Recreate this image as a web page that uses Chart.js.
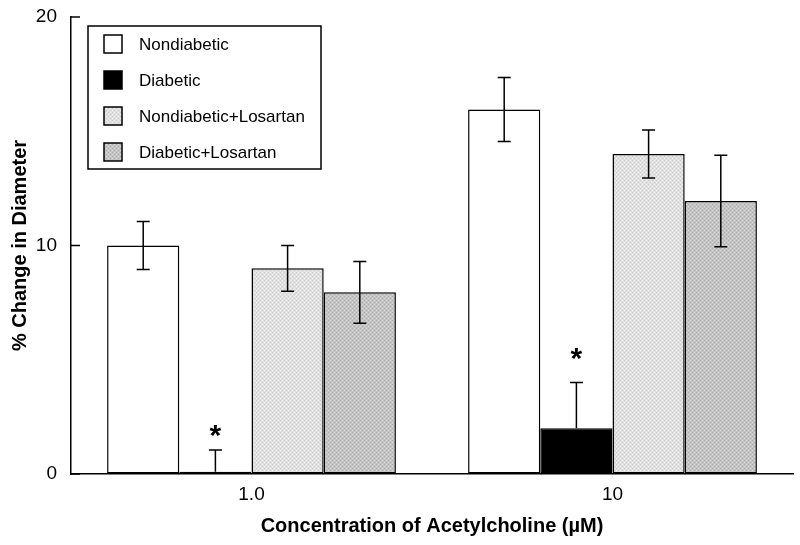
<!DOCTYPE html>
<html><head><meta charset="utf-8">
<script src="https://cdn.jsdelivr.net/npm/chart.js@4"></script>
<style>html,body{margin:0;padding:0;background:#fff}#wrap{width:800px;height:545px}</style>
</head><body><div id="wrap"><canvas id="c" width="800" height="545"></canvas></div>
<script>
// ---- data ----
const categories = ['1.0', '10'];
const seriesNames = ['Nondiabetic', 'Diabetic', 'Nondiabetic+Losartan', 'Diabetic+Losartan'];
const nondiabetic = [10.0, 15.95];
const diabetic = [0.1, 2.0];
const nondiabeticLosartan = [9.0, 14.0];
const diabeticLosartan = [7.95, 11.95];
const errNondiabetic = [1.05, 1.4];
const errDiabetic = [0.95, 2.0];
const errNondiabeticLosartan = [1.0, 1.05];
const errDiabeticLosartan = [1.35, 2.0];
const yTicks = [0, 10, 20];
const diabeticStarAt = [1.9, 5.25]; // asterisk height (data units) above Diabetic bars

const FONT = "Arial, 'Liberation Sans', Helvetica, sans-serif";

function makePattern(base, dark, light) {
  const p = document.createElement('canvas');
  p.width = 4; p.height = 4;
  const g = p.getContext('2d');
  g.fillStyle = base; g.fillRect(0, 0, 4, 4);
  g.fillStyle = dark; g.fillRect(0, 0, 1, 1); g.fillRect(2, 2, 1, 1);
  g.fillStyle = light; g.fillRect(2, 0, 1, 1); g.fillRect(0, 2, 1, 1);
  return document.createElement('canvas').getContext('2d').createPattern(p, 'repeat');
}
const patNL = makePattern('#e0e0e0', '#cdcdcd', '#efefef');
const patDL = makePattern('#c4c4c4', '#adadad', '#d6d6d6');

const fills = ['#ffffff', '#000000', patNL, patDL];
const values = [nondiabetic, diabetic, nondiabeticLosartan, diabeticLosartan];
const errors = [errNondiabetic, errDiabetic, errNondiabeticLosartan, errDiabeticLosartan];
const lowerErr = [true, false, true, true];

const errorBars = {
  id: 'errorBars',
  afterDatasetsDraw(chart) {
    const ctx = chart.ctx, y = chart.scales.y;
    ctx.save();
    ctx.strokeStyle = '#000'; ctx.lineWidth = 1.5;
    chart.data.datasets.forEach((ds, di) => {
      const meta = chart.getDatasetMeta(di);
      meta.data.forEach((bar, i) => {
        const v = ds.data[i], e = errors[di][i];
        const yt = y.getPixelForValue(v + e);
        const yb = lowerErr[di] ? y.getPixelForValue(v - e) : y.getPixelForValue(v);
        const x = bar.x, cw = 6.5;
        ctx.beginPath();
        ctx.moveTo(x, yb); ctx.lineTo(x, yt);
        ctx.moveTo(x - cw, yt); ctx.lineTo(x + cw, yt);
        if (lowerErr[di]) { ctx.moveTo(x - cw, yb); ctx.lineTo(x + cw, yb); }
        ctx.stroke();
      });
    });
    // asterisks over Diabetic bars
    const meta = chart.getDatasetMeta(1);
    ctx.fillStyle = '#000';
    ctx.font = 'bold 30px ' + FONT;
    ctx.textAlign = 'center'; ctx.textBaseline = 'alphabetic';
    const m = ctx.measureText('*');
    meta.data.forEach((bar, i) => {
      const cy = y.getPixelForValue(diabeticStarAt[i]);
      const base = cy + (m.actualBoundingBoxAscent - m.actualBoundingBoxDescent) / 2;
      ctx.fillText('*', bar.x, base);
    });
    ctx.restore();
  }
};

const axisTicks = {
  id: 'axisTicks',
  afterDraw(chart) {
    const ctx = chart.ctx, y = chart.scales.y, a = chart.chartArea;
    ctx.save();
    ctx.strokeStyle = '#000'; ctx.lineWidth = 1.5;
    yTicks.forEach(v => {
      const py = y.getPixelForValue(v);
      ctx.beginPath(); ctx.moveTo(a.left, py); ctx.lineTo(a.left + 9, py); ctx.stroke();
    });
    ctx.restore();
  }
};

const boxLegend = {
  id: 'boxLegend',
  afterDraw(chart) {
    const ctx = chart.ctx, a = chart.chartArea;
    const bx = a.left + 17, by = a.top + 9, bw = 233, bh = 143;
    ctx.save();
    ctx.fillStyle = '#fff';
    ctx.fillRect(bx, by, bw, bh);
    ctx.strokeStyle = '#000'; ctx.lineWidth = 1.5;
    ctx.strokeRect(bx, by, bw, bh);
    ctx.font = '17px ' + FONT;
    ctx.textAlign = 'left'; ctx.textBaseline = 'middle';
    seriesNames.forEach((name, i) => {
      const cy = by + 18 + i * 36;
      ctx.fillStyle = fills[i];
      ctx.fillRect(bx + 16, cy - 9, 18, 18);
      ctx.strokeRect(bx + 16, cy - 9, 18, 18);
      ctx.fillStyle = '#000';
      ctx.fillText(name, bx + 51, cy + 1);
    });
    ctx.restore();
  }
};

new Chart(document.getElementById('c'), {
  type: 'bar',
  data: {
    labels: categories,
    datasets: seriesNames.map((name, i) => ({
      label: name,
      data: values[i],
      backgroundColor: fills[i],
      borderColor: '#000',
      borderWidth: 1.5,
      borderSkipped: false,
      categoryPercentage: 0.8,
      barPercentage: 1.0
    }))
  },
  options: {
    responsive: false,
    animation: false,
    layout: { padding: { top: 17, right: 7, left: 0, bottom: 0 } },
    plugins: { legend: { display: false }, tooltip: { enabled: false } },
    scales: {
      x: {
        grid: { display: false },
        border: { color: '#000', width: 1.5 },
        ticks: { color: '#000', font: { family: FONT, size: 19 }, padding: 1 },
        title: { display: true, text: 'Concentration of Acetylcholine (µM)', color: '#000',
                 font: { family: FONT, size: 20, weight: 'bold' }, padding: { top: 0, bottom: 7 } },
        afterFit(s) { s.height = 71; s.paddingLeft = 0; s.paddingRight = 0; }
      },
      y: {
        min: 0, max: 20,
        afterBuildTicks(s) { s.ticks = yTicks.map(v => ({ value: v })); },
        grid: { drawOnChartArea: false, drawTicks: false },
        border: { color: '#000', width: 1.5 },
        ticks: { color: '#000', font: { family: FONT, size: 19 }, padding: 14 },
        title: { display: true, text: '% Change in Diameter', color: '#000',
                 font: { family: FONT, size: 20, weight: 'bold' }, padding: { top: 8, bottom: 0 } },
        afterFit(s) { s.width = 71; s.paddingTop = 0; s.paddingBottom = 0; }
      }
    }
  },
  plugins: [errorBars, axisTicks, boxLegend]
});
</script></body></html>
